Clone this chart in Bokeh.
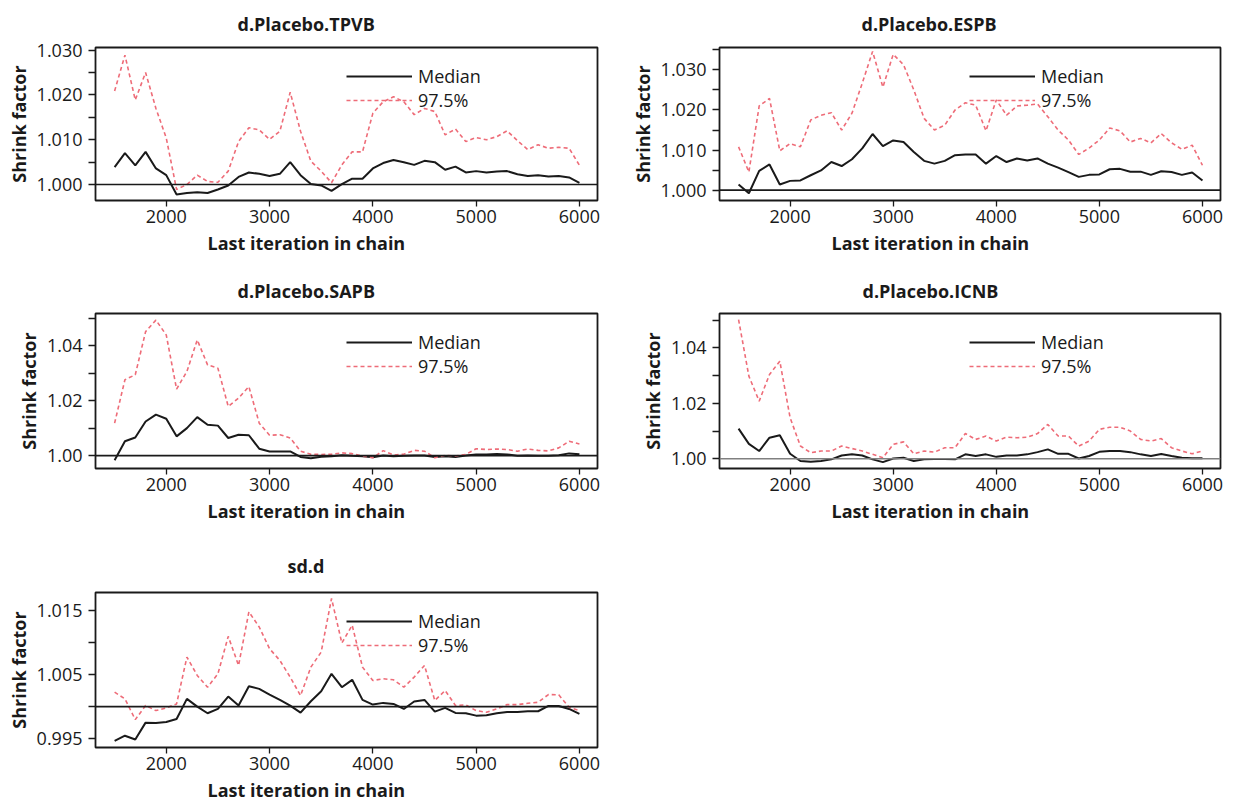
from bokeh.plotting import figure
from bokeh.models import Span, Title, Legend, LegendItem, FixedTicker, PrintfTickFormatter, Range1d
from bokeh.layouts import gridplot
from bokeh.embed import file_html
from bokeh.resources import INLINE

FONT = "Open Sans"

# ---------------- data ----------------
iterations = [1500, 1600, 1700, 1800, 1900, 2000, 2100, 2200, 2300, 2400,
              2500, 2600, 2700, 2800, 2900, 3000, 3100, 3200, 3300, 3400,
              3500, 3600, 3700, 3800, 3900, 4000, 4100, 4200, 4300, 4400,
              4500, 4600, 4700, 4800, 4900, 5000, 5100, 5200, 5300, 5400,
              5500, 5600, 5700, 5800, 5900, 6000]

x_ticks = [2000, 3000, 4000, 5000, 6000]

titles = ["d.Placebo.TPVB", "d.Placebo.ESPB", "d.Placebo.SAPB", "d.Placebo.ICNB", "sd.d"]
x_label = "Last iteration in chain"
y_label = "Shrink factor"
legend_labels = ["Median", "97.5%"]

tpvb_median = [1.0039, 1.0070, 1.0043, 1.0073, 1.0036, 1.0021, 0.9978, 0.9981, 0.9983, 0.9981,
               0.9989, 0.9998, 1.0017, 1.0027, 1.0024, 1.0019, 1.0024, 1.0050, 1.0021, 1.0001,
               0.9998, 0.9986, 1.0001, 1.0013, 1.0013, 1.0036, 1.0048, 1.0055, 1.0050, 1.0044,
               1.0053, 1.0050, 1.0033, 1.0040, 1.0027, 1.0030, 1.0027, 1.0029, 1.0030, 1.0023,
               1.0019, 1.0021, 1.0018, 1.0019, 1.0016, 1.0004]
tpvb_q975 = [1.0209, 1.0289, 1.0189, 1.0250, 1.0170, 1.0104, 0.9989, 1.0000, 1.0021, 1.0007,
             1.0005, 1.0030, 1.0096, 1.0127, 1.0122, 1.0101, 1.0119, 1.0206, 1.0119, 1.0052,
             1.0030, 1.0004, 1.0044, 1.0073, 1.0073, 1.0159, 1.0185, 1.0196, 1.0185, 1.0156,
             1.0170, 1.0163, 1.0111, 1.0124, 1.0096, 1.0105, 1.0100, 1.0107, 1.0120, 1.0098,
             1.0078, 1.0089, 1.0081, 1.0083, 1.0081, 1.0043]

espb_median = [1.0014, 0.9992, 1.0048, 1.0064, 1.0014, 1.0023, 1.0024, 1.0037, 1.0049, 1.0070,
               1.0060, 1.0077, 1.0104, 1.0140, 1.0110, 1.0124, 1.0120, 1.0095, 1.0073, 1.0066,
               1.0073, 1.0087, 1.0089, 1.0089, 1.0066, 1.0085, 1.0070, 1.0079, 1.0074, 1.0079,
               1.0066, 1.0056, 1.0045, 1.0033, 1.0038, 1.0039, 1.0052, 1.0053, 1.0046, 1.0046,
               1.0038, 1.0047, 1.0045, 1.0038, 1.0044, 1.0024]
espb_q975 = [1.0108, 1.0045, 1.0210, 1.0229, 1.0098, 1.0116, 1.0108, 1.0175, 1.0187, 1.0193,
             1.0150, 1.0192, 1.0267, 1.0346, 1.0257, 1.0339, 1.0313, 1.0250, 1.0179, 1.0150,
             1.0162, 1.0200, 1.0218, 1.0212, 1.0148, 1.0225, 1.0187, 1.0210, 1.0212, 1.0215,
             1.0183, 1.0150, 1.0125, 1.0089, 1.0105, 1.0125, 1.0155, 1.0148, 1.0120, 1.0129,
             1.0118, 1.0141, 1.0118, 1.0102, 1.0112, 1.0062]

sapb_median = [0.9983, 1.0052, 1.0066, 1.0124, 1.0149, 1.0134, 1.0070, 1.0100, 1.0140, 1.0112,
               1.0109, 1.0064, 1.0076, 1.0074, 1.0025, 1.0015, 1.0015, 1.0015, 0.9995, 0.9990,
               0.9996, 0.9998, 1.0001, 0.9999, 0.9998, 0.9994, 1.0000, 0.9998, 0.9999, 1.0000,
               1.0000, 0.9995, 0.9998, 0.9995, 1.0000, 1.0004, 1.0004, 1.0006, 1.0004, 0.9999,
               1.0000, 0.9999, 0.9999, 1.0001, 1.0008, 1.0005]
sapb_q975 = [1.0118, 1.0276, 1.0294, 1.0451, 1.0493, 1.0439, 1.0242, 1.0306, 1.0421, 1.0330,
             1.0318, 1.0179, 1.0209, 1.0251, 1.0118, 1.0074, 1.0076, 1.0064, 1.0016, 1.0005,
             1.0004, 1.0005, 1.0010, 1.0007, 0.9998, 0.9992, 1.0018, 1.0002, 1.0005, 1.0019,
             1.0016, 0.9992, 1.0001, 0.9998, 1.0004, 1.0025, 1.0022, 1.0024, 1.0022, 1.0016,
             1.0024, 1.0019, 1.0017, 1.0028, 1.0052, 1.0042]

icnb_median = [1.0109, 1.0054, 1.0028, 1.0076, 1.0085, 1.0018, 0.9992, 0.9989, 0.9992, 0.9998,
               1.0012, 1.0016, 1.0012, 0.9998, 0.9988, 1.0001, 1.0004, 0.9992, 0.9998, 0.9999,
               0.9999, 0.9998, 1.0016, 1.0010, 1.0016, 1.0007, 1.0012, 1.0012, 1.0016, 1.0024,
               1.0034, 1.0018, 1.0018, 1.0001, 1.0010, 1.0025, 1.0028, 1.0028, 1.0024, 1.0016,
               1.0010, 1.0017, 1.0010, 1.0004, 1.0002, 1.0002]
icnb_q975 = [1.0502, 1.0298, 1.0208, 1.0304, 1.0352, 1.0148, 1.0046, 1.0022, 1.0028, 1.0028,
             1.0046, 1.0037, 1.0028, 1.0016, 1.0004, 1.0052, 1.0061, 1.0018, 1.0028, 1.0024,
             1.0040, 1.0040, 1.0091, 1.0070, 1.0082, 1.0064, 1.0078, 1.0076, 1.0078, 1.0091,
             1.0124, 1.0082, 1.0082, 1.0046, 1.0064, 1.0106, 1.0114, 1.0114, 1.0100, 1.0070,
             1.0064, 1.0073, 1.0040, 1.0028, 1.0018, 1.0028]

sdd_median = [0.99463, 0.99543, 0.99484, 0.99748, 0.99743, 0.99759, 0.99806, 1.00121, 1.00000, 0.99895,
              0.99963, 1.00157, 1.00016, 1.00320, 1.00278, 1.00189, 1.00105, 1.00016, 0.99906, 1.00084,
              1.00241, 1.00514, 1.00304, 1.00420, 1.00105, 1.00031, 1.00058, 1.00042, 0.99963, 1.00079,
              1.00105, 0.99921, 0.99979, 0.99900, 0.99895, 0.99858, 0.99864, 0.99895, 0.99916, 0.99916,
              0.99927, 0.99927, 1.00010, 1.00010, 0.99963, 0.99885]
sdd_q975 = [1.00226, 1.00121, 0.99795, 1.00016, 0.99937, 0.99979, 1.00042, 1.00777, 1.00488, 1.00304,
            1.00514, 1.01102, 1.00646, 1.01486, 1.01249, 1.00908, 1.00724, 1.00462, 1.00173, 1.00619,
            1.00856, 1.01696, 1.00997, 1.01276, 1.00619, 1.00409, 1.00436, 1.00420, 1.00304, 1.00462,
            1.00646, 1.00095, 1.00252, 1.00016, 1.00026, 0.99937, 0.99911, 0.99963, 1.00031, 1.00031,
            1.00052, 1.00068, 1.00189, 1.00184, 0.99989, 0.99937]

# y ticks: labelled and unlabelled
y_major = [[1.000, 1.010, 1.020, 1.030],
           [1.000, 1.010, 1.020, 1.030],
           [1.00, 1.02, 1.04],
           [1.00, 1.02, 1.04],
           [0.995, 1.005, 1.015]]
y_minor = [[1.005, 1.015, 1.025],
           [1.005, 1.015, 1.025, 1.035],
           [1.01, 1.03, 1.05],
           [1.01, 1.03, 1.05],
           [1.000, 1.010]]
y_fmt = ["%.3f", "%.3f", "%.2f", "%.2f", "%.3f"]
y_ranges = [(0.99644, 1.0306), (0.9974, 1.0356), (0.9953, 1.0517), (0.9965, 1.0524), (0.99358, 1.0179)]

medians = [tpvb_median, espb_median, sapb_median, icnb_median, sdd_median]
uppers = [tpvb_q975, espb_q975, sapb_q975, icnb_q975, sdd_q975]

# ---------------- styling ----------------
DARK = "#1a1a1a"
RED = "#ee6c78"
ref_colors = [DARK, DARK, DARK, "#808080", DARK]

# (width, height, left, right, top, bottom) borders per panel
geoms = [(618, 268, 95, 21, 47, 68),
         (618, 268, 101, 16, 47, 68),
         (618, 272, 95, 21, 45, 72),
         (618, 272, 101, 16, 45, 72),
         (618, 265, 95, 21, 52, 58)]

# left offsets (px from frame left) so the texts are centred on the panel cell
title_offsets = [142, 142, 142, 143, 192]
title_standoffs = [20, 20, 18, 18, 25]
xlabel_offset = 112


def make_panel(i):
    w, h, bl, br, bt, bb = geoms[i]
    fw = w - bl - br
    fh = h - bt - bb
    p = figure(width=w, height=h, output_backend="svg", toolbar_location=None,
               x_range=Range1d(1315, 6175), y_range=Range1d(*y_ranges[i]),
               min_border_left=bl, min_border_right=br, min_border_top=bt, min_border_bottom=bb)
    p.xgrid.visible = False
    p.ygrid.visible = False
    p.background_fill_color = "white"
    p.border_fill_color = "white"
    p.outline_line_color = DARK
    p.outline_line_width = 1.8
    p.outline_line_alpha = 1.0

    p.add_layout(Span(location=1.0, dimension="width", line_color=ref_colors[i], line_width=1.6))
    r_med = p.line(iterations, medians[i], line_color=DARK, line_width=2)
    r_up = p.line(iterations, uppers[i], line_color=RED, line_width=1.6, line_dash="4 3")

    # x axis
    xa = p.xaxis[0]
    xa.ticker = FixedTicker(ticks=x_ticks)
    xa.axis_line_color = None
    xa.major_tick_out = 6
    xa.major_tick_in = 0
    xa.major_tick_line_color = DARK
    xa.major_tick_line_width = 1.3
    xa.minor_tick_line_color = None
    xa.major_label_text_font = FONT
    xa.major_label_text_font_size = "18px"
    xa.major_label_text_color = DARK
    xa.major_label_standoff = 3

    # y axis
    ya = p.yaxis[0]
    ya.ticker = FixedTicker(ticks=y_major[i], minor_ticks=y_minor[i])
    ya.formatter = PrintfTickFormatter(format=y_fmt[i])
    ya.axis_line_color = None
    ya.major_tick_out = 7
    ya.major_tick_in = 0
    ya.minor_tick_out = 7
    ya.minor_tick_in = 0
    ya.major_tick_line_color = DARK
    ya.minor_tick_line_color = DARK
    ya.major_tick_line_width = 1.3
    ya.minor_tick_line_width = 1.3
    ya.major_label_text_font = FONT
    ya.major_label_text_font_size = "18px"
    ya.major_label_text_color = DARK
    ya.major_label_standoff = 6
    ya.axis_label = y_label
    ya.axis_label_text_font = FONT
    ya.axis_label_text_font_size = "18px"
    ya.axis_label_text_font_style = "bold"
    ya.axis_label_text_color = DARK
    ya.axis_label_standoff = 3

    # title above, x-axis label below
    p.add_layout(Title(text=titles[i], align="left", vertical_align="top",
                       offset=title_offsets[i], standoff=title_standoffs[i],
                       text_font=FONT, text_font_size="18px", text_font_style="bold",
                       text_color=DARK), "above")
    p.add_layout(Title(text=x_label, align="left", offset=xlabel_offset, standoff=6,
                       text_font=FONT, text_font_size="18px", text_font_style="bold",
                       text_color=DARK), "below")

    legend = Legend(items=[LegendItem(label=legend_labels[0], renderers=[r_med]),
                           LegendItem(label=legend_labels[1], renderers=[r_up])],
                    location=(int(fw * 0.5), fh - 65),
                    background_fill_alpha=0, border_line_alpha=0,
                    padding=0, margin=0, spacing=0,
                    glyph_width=66, glyph_height=20, label_height=20, label_standoff=6,
                    label_text_font=FONT, label_text_font_size="18px",
                    label_text_color=DARK)
    p.add_layout(legend)
    return p


plots = [make_panel(i) for i in range(5)]
grid = gridplot([[plots[0], plots[1]], [plots[2], plots[3]], [plots[4], None]],
                toolbar_location=None)

open("out.html", "w").write(file_html(grid, INLINE))
